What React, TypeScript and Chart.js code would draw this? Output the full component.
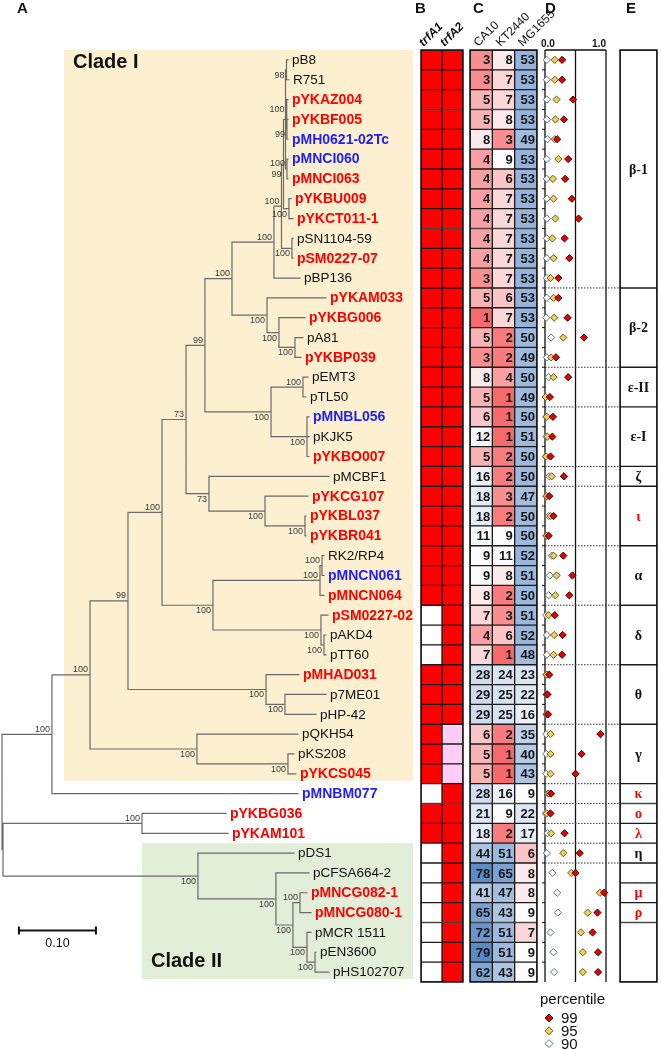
import React, { useEffect, useRef } from 'react';
import { Chart, registerables } from 'chart.js';

Chart.register(...registerables);

const W = 661;
const H = 1050;
const SANS = '"Liberation Sans", Arial, Helvetica, sans-serif';
const SERIF = '"Liberation Serif", "Times New Roman", serif';

// ------------------------------------------------------------------ data
const PLASMIDS = ['pB8', 'R751', 'pYKAZ004', 'pYKBF005', 'pMH0621-02Tc', 'pMNCI060', 'pMNCI063', 'pYKBU009', 'pYKCT011-1', 'pSN1104-59', 'pSM0227-07', 'pBP136', 'pYKAM033', 'pYKBG006', 'pA81', 'pYKBP039', 'pEMT3', 'pTL50', 'pMNBL056', 'pKJK5', 'pYKBO007', 'pMCBF1', 'pYKCG107', 'pYKBL037', 'pYKBR041', 'RK2/RP4', 'pMNCN061', 'pMNCN064', 'pSM0227-02', 'pAKD4', 'pTT60', 'pMHAD031', 'p7ME01', 'pHP-42', 'pQKH54', 'pKS208', 'pYKCS045', 'pMNBM077', 'pYKBG036', 'pYKAM101', 'pDS1', 'pCFSA664-2', 'pMNCG082-1', 'pMNCG080-1', 'pMCR 1511', 'pEN3600', 'pHS102707'];

// k = reference plasmid, r / b = highlighted plasmids
const LEAF_MARK = ['k', 'k', 'r', 'r', 'b', 'b', 'r', 'r', 'r', 'k', 'r', 'k', 'r', 'r', 'k', 'r', 'k', 'k', 'b', 'k', 'r', 'k', 'r', 'r', 'r', 'k', 'b', 'r', 'r', 'k', 'k', 'r', 'k', 'k', 'k', 'k', 'r', 'b', 'r', 'r', 'k', 'k', 'r', 'r', 'k', 'k', 'k'];

// distance from root to each tip (substitutions / site)
const TIP_DEPTH = [0.3714, 0.3727, 0.3714, 0.3714, 0.3714, 0.3714, 0.3714, 0.3753, 0.3779, 0.3779, 0.3779, 0.3870, 0.4208, 0.3935, 0.3909, 0.3883, 0.3974, 0.3948, 0.3987, 0.3987, 0.3987, 0.4247, 0.3974, 0.3948, 0.3948, 0.4182, 0.4182, 0.4182, 0.4234, 0.4208, 0.4208, 0.3857, 0.4208, 0.4078, 0.3844, 0.3792, 0.3818, 0.3844, 0.2909, 0.2935, 0.3792, 0.3987, 0.3961, 0.4013, 0.4013, 0.4078, 0.4247];

// internal nodes (children: numbers are tips, strings are nodes)
const NODE_IDS = ['A', 'B3', 'B2', 'C', 'D', 'T5', 'E', 'S', 'Q', 'R', 'B2A', 'B2B', 'B2N', 'BETA', 'E2', 'E1', 'EPS', 'BE', 'I2', 'IOTA', 'ZI', 'U73', 'AL1', 'AL', 'D2', 'DE', 'AD', 'U100', 'T2', 'TH', 'U128', 'G2', 'GA', 'U90', 'U52', 'O', 'CG', 'EN', 'MCR', 'II3', 'II2', 'II', 'O2', 'ROOT'];
const NODE_DEPTH = [0.3695, 0.3701, 0.3695, 0.3701, 0.3682, 0.3727, 0.3656, 0.3766, 0.3630, 0.3532, 0.3805, 0.3597, 0.3442, 0.2987, 0.3909, 0.3961, 0.3494, 0.2636, 0.3935, 0.3416, 0.2688, 0.2390, 0.4156, 0.4130, 0.4182, 0.4143, 0.2740, 0.2078, 0.3675, 0.3429, 0.1636, 0.3714, 0.2532, 0.1143, 0.0649, 0.1818, 0.3870, 0.4065, 0.3961, 0.3779, 0.3558, 0.2545, 0.0013, 0];
const NODE_CHILDREN: (number | string)[][] = [[0, 1], [3, 4], [2, 'B3'], [5, 6], ['A', 'B2', 'C'], [7, 8], ['D', 'T5'], [9, 10], ['E', 'S'], ['Q', 11], [14, 15], [13, 'B2A'], [12, 'B2B'], ['R', 'B2N'], [16, 17], [18, 19, 20], ['E2', 'E1'], ['BETA', 'EPS'], [23, 24], [22, 'I2'], [21, 'IOTA'], ['BE', 'ZI'], [25, 26], ['AL1', 27], [29, 30], [28, 'D2'], ['AL', 'DE'], ['U73', 'AD'], [32, 33], [31, 'T2'], ['U100', 'TH'], [35, 36], [34, 'G2'], ['U128', 'GA'], ['U90', 37], [38, 39], [42, 43], [45, 46], [44, 'EN'], ['CG', 'MCR'], [41, 'II3'], [40, 'II2'], ['O', 'II'], ['U52', 'O2']];
const NODE_SUPPORT = [98, 99, 100, 100, null, 100, 99, 100, 100, 100, 100, 100, 100, 100, 100, 100, 100, 99, 100, 100, 73, 73, 100, 100, 100, 100, 100, 100, 100, 100, 99, 100, 100, 100, 100, 100, 100, 100, 100, 100, 100, 100, null, null];
const NODE_LABEL_SIDE = ['b', 'b', 'a', 'a', '', 'b', 'c', 'b', 'a', 'a', 'b', 'b', 'b', 'a', 'a', 'b', 'b', 'a', 'b', 'b', 'b', 'a', 'a', 'a', 'b', 'b', 'b', 'a', 'b', 'b', 'a', 'b', 'b', 'a', 'a', 'a', 'a', 'b', 'b', 'b', 'b', 'b', '', ''];

const CLADE_NAMES = ['Clade I', 'Clade II'];
const CLADE_FIRST = [0, 40];
const CLADE_LAST = [36, 46];
const CLADE_START_DEPTH = [0.0805, 0.1818];
const SCALE_BAR = 0.1;

// panel B: 1 = present, 0 = absent, 2 = partial
const TRF_HEADERS = ['trfA1', 'trfA2'];
const TRFA1 = [1, 1, 1, 1, 1, 1, 1, 1, 1, 1, 1, 1, 1, 1, 1, 1, 1, 1, 1, 1, 1, 1, 1, 1, 1, 1, 1, 1, 0, 0, 0, 1, 1, 1, 1, 1, 1, 0, 1, 1, 0, 0, 0, 0, 0, 0, 0];
const TRFA2 = [1, 1, 1, 1, 1, 1, 1, 1, 1, 1, 1, 1, 1, 1, 1, 1, 1, 1, 1, 1, 1, 1, 1, 1, 1, 1, 1, 1, 1, 1, 1, 1, 1, 1, 2, 2, 2, 1, 1, 1, 1, 1, 1, 1, 1, 1, 1];

// panel C
const HOST_HEADERS = ['CA10', 'KT2440', 'MG1655'];
const CA10 = [3, 3, 5, 5, 8, 4, 4, 4, 4, 4, 4, 3, 5, 1, 5, 3, 8, 5, 6, 12, 5, 16, 18, 18, 11, 9, 9, 8, 7, 4, 7, 28, 29, 29, 6, 5, 5, 28, 21, 18, 44, 78, 41, 65, 72, 79, 62];
const KT2440 = [8, 7, 7, 8, 3, 9, 6, 7, 7, 7, 7, 7, 6, 7, 2, 2, 4, 1, 1, 1, 2, 2, 3, 2, 9, 11, 8, 2, 3, 6, 1, 24, 25, 25, 2, 1, 1, 16, 9, 2, 51, 65, 47, 43, 51, 51, 43];
const MG1655 = [53, 53, 53, 53, 49, 53, 53, 53, 53, 53, 53, 53, 53, 53, 50, 49, 50, 49, 50, 51, 50, 50, 47, 50, 50, 52, 51, 50, 51, 52, 48, 23, 22, 16, 35, 40, 43, 9, 22, 17, 6, 8, 8, 9, 7, 9, 9];

// panel D (percentile scores, 0..1)
const P99 = [0.28, 0.28, 0.46, 0.31, 0.20, 0.38, 0.33, 0.44, 0.55, 0.32, 0.40, 0.22, 0.22, 0.37, 0.64, 0.18, 0.38, 0.08, 0.13, 0.12, 0.09, 0.31, 0.07, 0.14, 0.06, 0.30, 0.45, 0.40, 0.16, 0.29, 0.28, 0.07, 0.04, 0.05, 0.91, 0.60, 0.50, 0.10, 0.09, 0.32, 0.57, 0.50, 0.97, 0.86, 0.78, 0.87, 0.87];
const P95 = [0.16, 0.16, 0.19, 0.17, 0.16, 0.22, 0.13, 0.14, 0.17, 0.12, 0.14, 0.09, 0.14, 0.15, 0.30, 0.10, 0.14, 0.01, 0.03, 0.04, 0.02, 0.11, 0.03, 0.09, 0.03, 0.14, 0.19, 0.17, 0.06, 0.15, 0.14, 0.03, 0.03, 0.03, 0.09, 0.09, 0.09, 0.07, 0.03, 0.10, 0.30, 0.43, 0.90, 0.70, 0.59, 0.62, 0.62];
const P90 = [0.03, 0.03, 0.03, 0.03, 0.04, 0.03, 0.03, 0.03, 0.03, 0.03, 0.03, 0.03, 0.03, 0.02, 0.10, 0.03, 0.06, 0.01, 0.02, 0.02, 0.01, 0.07, 0.02, 0.06, 0.02, 0.11, 0.08, 0.06, 0.02, 0.03, 0.03, 0.02, 0.02, 0.02, 0.02, 0.02, 0.02, 0.05, 0.01, 0.04, 0.03, 0.12, 0.20, 0.21, 0.09, 0.14, 0.15];
const PERCENTILE_LABELS = ['99', '95', '90'];

// panel E (Inc groups, 0-based row ranges)
const GROUP_LABELS = ['β-1', 'β-2', 'ε-II', 'ε-I', 'ζ', 'ι', 'α', 'δ', 'θ', 'γ', 'κ', 'ο', 'λ', 'η', '', 'μ', 'ρ', ''];
const GROUP_FIRST = [0, 12, 16, 18, 21, 22, 25, 28, 31, 34, 37, 38, 39, 40, 41, 42, 43, 44];
const GROUP_LAST = [11, 15, 17, 20, 21, 24, 27, 30, 33, 36, 37, 38, 39, 40, 41, 42, 43, 46];
const GROUP_TONE = ['k', 'k', 'k', 'k', 'k', 'r', 'k', 'k', 'k', 'k', 'r', 'r', 'r', 'k', 'k', 'r', 'r', 'k'];

// ------------------------------------------------------------------ layout / style
const ROW_TOP = 50;
const ROW_BOTTOM = 982;
const TREE_AREA = [2, 420];
const TREE_X_MAX = 0.5429;
const B_AREA = [421, 463];
const C_AREA = [470, 537];
const D_AREA = [545, 606];
const E_AREA = [620, 657];
const DOTTED_GROUPS = 14;
const MARK_COLOR: Record<string, string> = { k: '#111111', r: '#ff0000', b: '#1e1eff' };
const TRF_COLOR: Record<number, string> = { 0: '#ffffff', 1: '#ff0000', 2: '#ffccf6' };
const CLADE_FILL = ['#fdf0d1', '#e3eed9'];
const DIAMOND_FILL = ['#e80000', '#f3cd5c', '#ffffff'];
const DIAMOND_EDGE = ['#3d0000', '#6a5a1c', '#55708f'];

// ------------------------------------------------------------------ helpers
const nodeIndex = new Map<string, number>(NODE_IDS.map((id, i) => [id, i]));
const nodeRowCache = new Map<string, number>();
function rowOf(ref: number | string): number {
  if (typeof ref === 'number') return ref;
  if (nodeRowCache.has(ref)) return nodeRowCache.get(ref) as number;
  const kids = NODE_CHILDREN[nodeIndex.get(ref) as number];
  const r = (rowOf(kids[0]) + rowOf(kids[kids.length - 1])) / 2;
  nodeRowCache.set(ref, r);
  return r;
}
function depthOf(ref: number | string): number {
  return typeof ref === 'number' ? TIP_DEPTH[ref] : NODE_DEPTH[nodeIndex.get(ref) as number];
}
function buildTreeSegments() {
  const pts: any[] = [];
  const gap = () => pts.push({ x: 0, y: null });
  NODE_IDS.forEach((id, k) => {
    const d = NODE_DEPTH[k];
    const kids = NODE_CHILDREN[k];
    const first = kids[0];
    const last = kids[kids.length - 1];
    pts.push({ x: depthOf(first), y: rowOf(first) }, { x: d, y: rowOf(first) }, { x: d, y: rowOf(last) }, { x: depthOf(last), y: rowOf(last) });
    gap();
    kids.slice(1, -1).forEach((c) => {
      pts.push({ x: d, y: rowOf(c) }, { x: depthOf(c), y: rowOf(c) });
      gap();
    });
  });
  return pts;
}

const ALL_HEAT = [...CA10, ...KT2440, ...MG1655].sort((a, b) => a - b);
const HEAT_MIN = ALL_HEAT[0];
const HEAT_MAX = ALL_HEAT[ALL_HEAT.length - 1];
const HEAT_MID = ALL_HEAT[Math.floor(ALL_HEAT.length / 2)];
function mix(a: number[], b: number[], t: number) {
  const c = a.map((v, i) => Math.round(v + (b[i] - v) * t));
  return `rgb(${c[0]},${c[1]},${c[2]})`;
}
function heatColor(v: number) {
  const low = [248, 105, 107];
  const mid = [252, 252, 255];
  const high = [90, 138, 198];
  if (v <= HEAT_MID) return mix(mid, low, (HEAT_MID - v) / (HEAT_MID - HEAT_MIN));
  return mix(mid, high, (v - HEAT_MID) / (HEAT_MAX - HEAT_MID));
}

function put(ctx: CanvasRenderingContext2D, s: string, x: number, y: number, font: string, color = '#111', align: CanvasTextAlign = 'left', baseline: CanvasTextBaseline = 'middle') {
  ctx.font = font;
  ctx.fillStyle = color;
  ctx.textAlign = align;
  ctx.textBaseline = baseline;
  ctx.fillText(s, x, y);
}
function diamond(ctx: CanvasRenderingContext2D, x: number, y: number, r: number, fill: string, edge: string) {
  ctx.beginPath();
  ctx.moveTo(x, y - r);
  ctx.lineTo(x + r, y);
  ctx.lineTo(x, y + r);
  ctx.lineTo(x - r, y);
  ctx.closePath();
  ctx.fillStyle = fill;
  ctx.fill();
  ctx.lineWidth = 1;
  ctx.strokeStyle = edge;
  ctx.stroke();
}
function rotatedHeader(ctx: CanvasRenderingContext2D, s: string, x: number, y: number, font: string) {
  ctx.save();
  ctx.translate(x, y);
  ctx.rotate(-Math.PI / 4);
  put(ctx, s, 0, 0, font, '#111', 'left', 'alphabetic');
  ctx.restore();
}

function common(area: number[]): any {
  return {
    responsive: false,
    maintainAspectRatio: false,
    animation: false,
    devicePixelRatio: 1,
    events: [],
    layout: { padding: { left: area[0], right: W - area[1], top: ROW_TOP, bottom: H - ROW_BOTTOM } },
    plugins: { legend: { display: false }, tooltip: { enabled: false }, title: { display: false } },
  };
}
function rowScale(): any {
  return { type: 'linear', min: -0.5, max: PLASMIDS.length - 0.5, reverse: true, display: false };
}

// ------------------------------------------------------------------ panel A: tree
const treeDecor = {
  id: 'treeDecor',
  beforeDatasetsDraw(chart: any) {
    const { ctx, chartArea: a, scales } = chart;
    const x = scales.x;
    const y = scales.y;
    ctx.save();
    CLADE_NAMES.forEach((name, k) => {
      const left = x.getPixelForValue(CLADE_START_DEPTH[k]);
      const top = y.getPixelForValue(CLADE_FIRST[k] - 0.5);
      const bottom = y.getPixelForValue(CLADE_LAST[k] + 0.35);
      const right = a.right - 7;
      ctx.fillStyle = CLADE_FILL[k];
      ctx.fillRect(left, top, right - left, bottom - top);
      const ty = k === 0 ? top + 12 : bottom - 18;
      put(ctx, name, left + 9, ty, `bold 20px ${SANS}`);
    });
    ctx.restore();
  },
  afterDatasetsDraw(chart: any) {
    const { ctx, scales } = chart;
    const x = scales.x;
    const y = scales.y;
    ctx.save();
    PLASMIDS.forEach((name, i) => {
      const mark = LEAF_MARK[i];
      const font = mark === 'k' ? `13.5px ${SANS}` : `bold 14px ${SANS}`;
      put(ctx, name, x.getPixelForValue(TIP_DEPTH[i]) + 4, y.getPixelForValue(i) + 0.5, font, MARK_COLOR[mark]);
    });
    NODE_IDS.forEach((id, k) => {
      const s = NODE_SUPPORT[k];
      if (s === null) return;
      const px = x.getPixelForValue(NODE_DEPTH[k]) - 2;
      const py = y.getPixelForValue(rowOf(id));
      const side = NODE_LABEL_SIDE[k];
      const f = `9px ${SANS}`;
      if (side === 'a') put(ctx, String(s), px, py - 0.5, f, '#3a3a3a', 'right', 'bottom');
      else if (side === 'b') put(ctx, String(s), px, py + 1, f, '#3a3a3a', 'right', 'top');
      else if (side === 'c') put(ctx, String(s), px, py + 6, f, '#3a3a3a', 'right', 'top');
      else put(ctx, String(s), px, py, f, '#3a3a3a', 'right', 'middle');
    });
    // scale bar
    const x0 = x.getPixelForValue(0.022);
    const x1 = x.getPixelForValue(0.022 + SCALE_BAR);
    const yb = y.getPixelForValue(43.9);
    ctx.strokeStyle = '#111';
    ctx.lineWidth = 2;
    ctx.beginPath();
    ctx.moveTo(x0, yb);
    ctx.lineTo(x1, yb);
    ctx.moveTo(x0, yb - 4);
    ctx.lineTo(x0, yb + 4);
    ctx.moveTo(x1, yb - 4);
    ctx.lineTo(x1, yb + 4);
    ctx.stroke();
    put(ctx, SCALE_BAR.toFixed(2), (x0 + x1) / 2, yb + 13, `12.5px ${SANS}`, '#111', 'center');
    put(ctx, 'A', 17, 9, `bold 15px ${SANS}`);
    ctx.restore();
  },
};

function makeTree(canvas: HTMLCanvasElement) {
  return new Chart(canvas, {
    type: 'line',
    data: {
      datasets: [
        {
          data: buildTreeSegments(),
          borderColor: '#6a6a6a',
          borderWidth: 1.2,
          pointRadius: 0,
          spanGaps: false,
          tension: 0,
          fill: false,
          clip: false,
          borderCapStyle: 'square',
        } as any,
      ],
    },
    options: {
      ...common(TREE_AREA),
      scales: { x: { type: 'linear', min: 0, max: TREE_X_MAX, display: false }, y: rowScale() },
    },
    plugins: [treeDecor],
  } as any);
}

// ------------------------------------------------------------------ panels B & C: grids
function makeGrid(canvas: HTMLCanvasElement, area: number[], columns: number[][], colorFn: (v: number) => string, plugin: any) {
  return new Chart(canvas, {
    type: 'bar',
    data: {
      labels: PLASMIDS,
      datasets: columns.map((vals, c) => ({
        data: vals.map(() => [c, c + 1]),
        backgroundColor: vals.map(colorFn),
        borderColor: '#1b1b1b',
        borderWidth: 1,
        borderSkipped: false,
        grouped: false,
        barPercentage: 1,
        categoryPercentage: 1,
      })),
    },
    options: {
      ...common(area),
      indexAxis: 'y',
      scales: {
        x: { type: 'linear', min: 0, max: columns.length, display: false },
        y: { type: 'category', offset: true, display: false },
      },
    },
    plugins: [plugin],
  } as any);
}

const trfDecor = {
  id: 'trfDecor',
  afterDatasetsDraw(chart: any) {
    const { ctx, chartArea: a, scales } = chart;
    ctx.save();
    ctx.lineWidth = 1.5;
    ctx.strokeStyle = '#111';
    ctx.strokeRect(a.left, a.top, a.right - a.left, a.bottom - a.top);
    TRF_HEADERS.forEach((h, c) => {
      const cx = (scales.x.getPixelForValue(c) + scales.x.getPixelForValue(c + 1)) / 2;
      rotatedHeader(ctx, h, cx - 8, a.top - 3, `italic bold 12px ${SANS}`);
    });
    put(ctx, 'B', a.left - 6, 9, `bold 15px ${SANS}`);
    ctx.restore();
  },
};

const hostDecor = {
  id: 'hostDecor',
  afterDatasetsDraw(chart: any) {
    const { ctx, chartArea: a, scales } = chart;
    const cols = [CA10, KT2440, MG1655];
    ctx.save();
    cols.forEach((vals, c) => {
      const meta = chart.getDatasetMeta(c);
      meta.data.forEach((el: any, i: number) => {
        put(ctx, String(vals[i]), Math.max(el.x, el.base) - 2, el.y + 1, `bold 13px ${SANS}`, '#151515', 'right');
      });
    });
    ctx.lineWidth = 1.5;
    ctx.strokeStyle = '#111';
    ctx.strokeRect(a.left, a.top, a.right - a.left, a.bottom - a.top);
    HOST_HEADERS.forEach((h, c) => {
      const cx = (scales.x.getPixelForValue(c) + scales.x.getPixelForValue(c + 1)) / 2;
      rotatedHeader(ctx, h, cx - 3, a.top - 3, `12px ${SANS}`);
    });
    put(ctx, 'C', a.left + 3, 9, `bold 15px ${SANS}`);
    ctx.restore();
  },
};

// ------------------------------------------------------------------ panel D: percentile scores
const scoreDecor = {
  id: 'scoreDecor',
  beforeDatasetsDraw(chart: any) {
    const { ctx, chartArea: a, scales } = chart;
    const x = scales.x;
    const y = scales.y;
    ctx.save();
    ctx.strokeStyle = '#111';
    ctx.lineWidth = 1.3;
    ctx.beginPath();
    [0, 0.5, 1].forEach((v) => {
      const px = x.getPixelForValue(v);
      ctx.moveTo(px, a.top);
      ctx.lineTo(px, a.bottom);
    });
    ctx.moveTo(a.left, a.top);
    ctx.lineTo(a.right, a.top);
    ctx.stroke();
    ctx.lineWidth = 1;
    ctx.beginPath();
    for (let k = 0; k < PLASMIDS.length - 1; k++) {
      const py = y.getPixelForValue(k + 0.5);
      ctx.moveTo(a.left - 3, py);
      ctx.lineTo(a.left, py);
    }
    ctx.stroke();
    ctx.setLineDash([1.5, 1.5]);
    ctx.strokeStyle = '#333';
    ctx.beginPath();
    for (let g = 0; g < DOTTED_GROUPS; g++) {
      const py = y.getPixelForValue(GROUP_LAST[g] + 0.5);
      ctx.moveTo(a.left, py);
      ctx.lineTo(E_AREA[0], py);
    }
    ctx.stroke();
    ctx.restore();
  },
  afterDatasetsDraw(chart: any) {
    const { ctx, chartArea: a, scales } = chart;
    const x = scales.x;
    ctx.save();
    put(ctx, '0.0', x.getPixelForValue(0) - 4, 44, `bold 10px ${SANS}`, '#111', 'left');
    put(ctx, '1.0', x.getPixelForValue(1), 44, `bold 10px ${SANS}`, '#111', 'right');
    put(ctx, 'D', a.left, 9, `bold 15px ${SANS}`);
    // legend
    put(ctx, 'percentile', a.left - 5, 1000, `15px ${SANS}`);
    PERCENTILE_LABELS.forEach((lab, k) => {
      const ds = chart.data.datasets[k];
      const ly = 1018 + k * 12.8;
      diamond(ctx, a.left + 4, ly, 4, ds.backgroundColor, ds.borderColor);
      put(ctx, lab, a.left + 16, ly + 1, `15px ${SANS}`);
    });
    ctx.restore();
  },
};

function makeScores(canvas: HTMLCanvasElement) {
  const series = [P99, P95, P90];
  return new Chart(canvas, {
    type: 'scatter',
    data: {
      datasets: series.map((vals, k) => ({
        label: PERCENTILE_LABELS[k],
        data: vals.map((v, i) => ({ x: v, y: i })),
        pointStyle: 'rectRot',
        pointRadius: 3.6,
        backgroundColor: DIAMOND_FILL[k],
        borderColor: DIAMOND_EDGE[k],
        borderWidth: 1,
        clip: false,
      })),
    },
    options: {
      ...common(D_AREA),
      scales: { x: { type: 'linear', min: 0, max: 1, display: false }, y: rowScale() },
    },
    plugins: [scoreDecor],
  } as any);
}

// ------------------------------------------------------------------ panel E: Inc groups
const groupDecor = {
  id: 'groupDecor',
  afterDatasetsDraw(chart: any) {
    const { ctx, chartArea: a, scales } = chart;
    const y = scales.y;
    ctx.save();
    GROUP_LABELS.forEach((lab, g) => {
      if (!lab) return;
      const py = y.getPixelForValue((GROUP_FIRST[g] + GROUP_LAST[g]) / 2);
      put(ctx, lab, (a.left + a.right) / 2, py + 1, `bold 14px ${SERIF}`, GROUP_TONE[g] === 'r' ? '#ff0000' : '#111', 'center');
    });
    ctx.lineWidth = 1.5;
    ctx.strokeStyle = '#111';
    ctx.strokeRect(a.left, a.top, a.right - a.left, a.bottom - a.top);
    put(ctx, 'E', a.left + 6, 9, `bold 15px ${SANS}`);
    ctx.restore();
  },
};

function makeGroups(canvas: HTMLCanvasElement) {
  return new Chart(canvas, {
    type: 'bar',
    data: {
      labels: ['Inc'],
      datasets: GROUP_LABELS.map((lab, g) => ({
        label: lab,
        data: [[GROUP_FIRST[g] - 0.5, GROUP_LAST[g] + 0.5]],
        backgroundColor: '#ffffff',
        borderColor: '#1b1b1b',
        borderWidth: 1,
        borderSkipped: false,
        grouped: false,
        barPercentage: 1,
        categoryPercentage: 1,
      })),
    },
    options: {
      ...common(E_AREA),
      scales: { x: { type: 'category', offset: true, display: false }, y: rowScale() },
    },
    plugins: [groupDecor],
  } as any);
}

// ------------------------------------------------------------------ component
export default function App() {
  const treeRef = useRef<HTMLCanvasElement>(null);
  const bRef = useRef<HTMLCanvasElement>(null);
  const cRef = useRef<HTMLCanvasElement>(null);
  const dRef = useRef<HTMLCanvasElement>(null);
  const eRef = useRef<HTMLCanvasElement>(null);

  useEffect(() => {
    const charts = [
      makeTree(treeRef.current as HTMLCanvasElement),
      makeGrid(bRef.current as HTMLCanvasElement, B_AREA, [TRFA1, TRFA2], (v) => TRF_COLOR[v], trfDecor),
      makeGrid(cRef.current as HTMLCanvasElement, C_AREA, [CA10, KT2440, MG1655], heatColor, hostDecor),
      makeScores(dRef.current as HTMLCanvasElement),
      makeGroups(eRef.current as HTMLCanvasElement),
    ];
    return () => charts.forEach((c) => c.destroy());
  }, []);

  const style: React.CSSProperties = { position: 'absolute', left: 0, top: 0, width: W, height: H };
  return (
    <div style={{ position: 'absolute', left: 0, top: 0, width: W, height: H, background: '#ffffff', overflow: 'hidden' }}>
      {[treeRef, bRef, cRef, dRef, eRef].map((r, i) => (
        <canvas key={i} ref={r} width={W} height={H} style={style} />
      ))}
    </div>
  );
}
